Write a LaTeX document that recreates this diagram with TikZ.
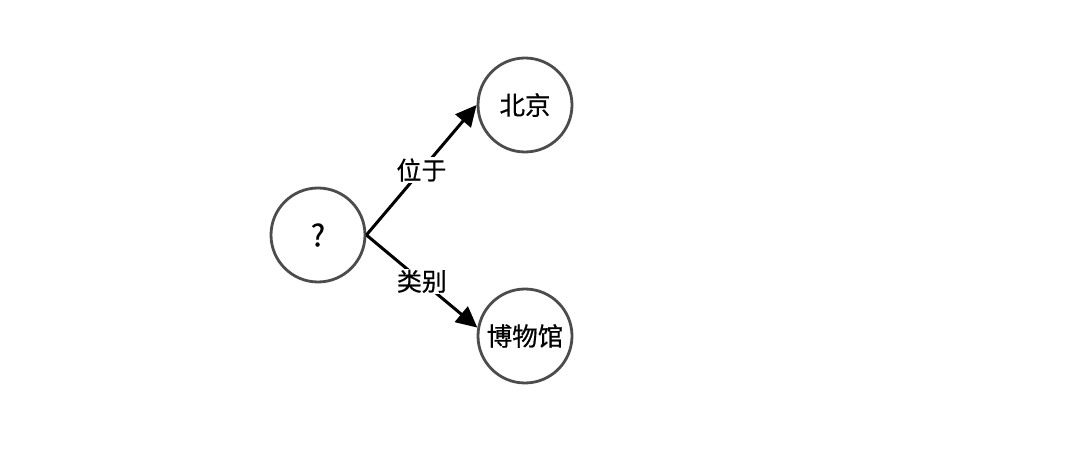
\documentclass[tikz,border=0pt]{standalone}
\usepackage{fontspec}
\setmainfont[FakeBold=0.6]{Noto Sans CJK SC}
\usetikzlibrary{arrows.meta}
\begin{document}
\begin{tikzpicture}[x=1pt,y=-1pt,
  ent/.style={circle,draw=black!70,line width=2.8pt,minimum size=94pt,inner sep=0pt,font=\fontsize{25.5}{28}\selectfont,fill=white},
  rel/.style={line width=3pt,-{Triangle[length=21pt,width=20pt]}},
  lbl/.style={fill=white,inner sep=1pt,font=\fontsize{25}{28}\selectfont}]
\useasboundingbox (0,0) rectangle (1080,462);
\node[ent,font=\fontsize{30}{32}\selectfont] (q) at (318,235) {?};
\node[ent] (bj) at (525,105) {北京};
\node[ent] (bw) at (525,336) {博物馆};
\draw[rel] (q.east) -- node[lbl] {位于} (bj.west);
\draw[rel] (q.east) -- node[lbl] {类别} (bw.170);
\end{tikzpicture}
\end{document}
